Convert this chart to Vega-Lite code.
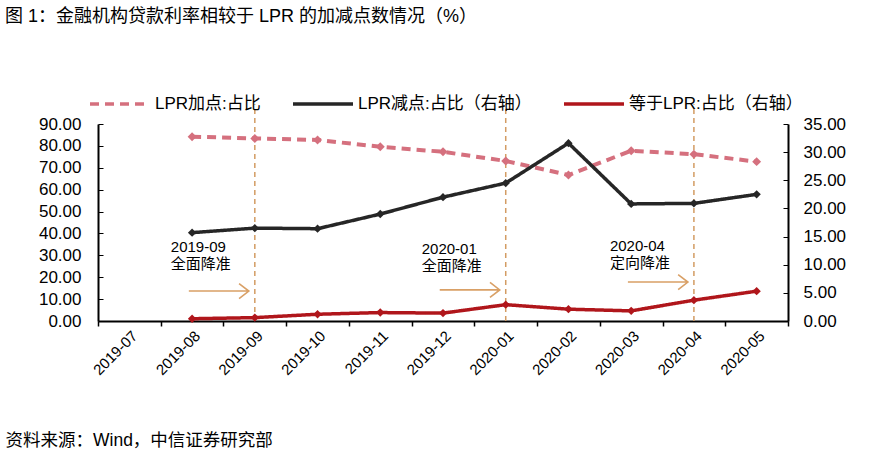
{
  "$schema": "https://vega.github.io/schema/vega-lite/v6.json",
  "width": 690,
  "height": 197,
  "autosize": {"type": "none"},
  "padding": {"left": 98, "top": 124, "right": 92, "bottom": 136},
  "background": "white",
  "title": {
    "text": "图 1：金融机构贷款利率相较于 LPR 的加减点数情况（%）",
    "anchor": "start",
    "frame": "group",
    "dx": -93,
    "dy": -36,
    "fontSize": 18,
    "fontWeight": "normal",
    "font": "Liberation Sans, Noto Sans CJK SC",
    "color": "#000000",
    "offset": 10
  },
  "config": {
    "font": "Liberation Sans, Noto Sans CJK SC",
    "view": {"stroke": null},
    "axis": {"labelOverlap": false, "labelColor": "#000000", "domainColor": "#000000", "tickColor": "#000000", "grid": false},
    "axisY": {"labelOverlap": false, "labelFontSize": 17, "labelFont": "Liberation Sans"},
    "legend": {
      "orient": "none",
      "legendX": -10,
      "legendY": -52,
      "direction": "horizontal",
      "symbolType": "stroke",
      "symbolSize": 3600,
      "symbolStrokeWidth": 3.5,
      "labelFontSize": 17,
      "labelLimit": 400,
      "labelColor": "#000000",
      "labelFont": "Liberation Sans, Noto Sans CJK SC",
      "columnPadding": 25,
      "labelOffset": 3,
      "title": null
    }
  },
  "datasets": {
    "plus": [
      {"month": "2019-08", "series": "LPR加点:占比", "value": 84.2},
      {"month": "2019-09", "series": "LPR加点:占比", "value": 83.4},
      {"month": "2019-10", "series": "LPR加点:占比", "value": 82.7},
      {"month": "2019-11", "series": "LPR加点:占比", "value": 79.6},
      {"month": "2019-12", "series": "LPR加点:占比", "value": 77.3},
      {"month": "2020-01", "series": "LPR加点:占比", "value": 73.1},
      {"month": "2020-02", "series": "LPR加点:占比", "value": 66.7},
      {"month": "2020-03", "series": "LPR加点:占比", "value": 77.8},
      {"month": "2020-04", "series": "LPR加点:占比", "value": 76.2},
      {"month": "2020-05", "series": "LPR加点:占比", "value": 72.8}
    ],
    "right": [
      {"month": "2019-08", "series": "LPR减点:占比（右轴）", "value": 15.7},
      {"month": "2019-09", "series": "LPR减点:占比（右轴）", "value": 16.5},
      {"month": "2019-10", "series": "LPR减点:占比（右轴）", "value": 16.4},
      {"month": "2019-11", "series": "LPR减点:占比（右轴）", "value": 19.0},
      {"month": "2019-12", "series": "LPR减点:占比（右轴）", "value": 22.0},
      {"month": "2020-01", "series": "LPR减点:占比（右轴）", "value": 24.5},
      {"month": "2020-02", "series": "LPR减点:占比（右轴）", "value": 31.6},
      {"month": "2020-03", "series": "LPR减点:占比（右轴）", "value": 20.8},
      {"month": "2020-04", "series": "LPR减点:占比（右轴）", "value": 20.9},
      {"month": "2020-05", "series": "LPR减点:占比（右轴）", "value": 22.5},
      {"month": "2019-08", "series": "等于LPR:占比（右轴）", "value": 0.4},
      {"month": "2019-09", "series": "等于LPR:占比（右轴）", "value": 0.6},
      {"month": "2019-10", "series": "等于LPR:占比（右轴）", "value": 1.2},
      {"month": "2019-11", "series": "等于LPR:占比（右轴）", "value": 1.5},
      {"month": "2019-12", "series": "等于LPR:占比（右轴）", "value": 1.4},
      {"month": "2020-01", "series": "等于LPR:占比（右轴）", "value": 2.9},
      {"month": "2020-02", "series": "等于LPR:占比（右轴）", "value": 2.1},
      {"month": "2020-03", "series": "等于LPR:占比（右轴）", "value": 1.8},
      {"month": "2020-04", "series": "等于LPR:占比（右轴）", "value": 3.7},
      {"month": "2020-05", "series": "等于LPR:占比（右轴）", "value": 5.3}
    ],
    "events": [
      {"month": "2019-09", "label": "2019-09\n全面降准", "labelY": 37.0, "arrowY": 13.7},
      {"month": "2020-01", "label": "2020-01\n全面降准", "labelY": 36.1, "arrowY": 14.2},
      {"month": "2020-04", "label": "2020-04\n定向降准", "labelY": 37.6, "arrowY": 17.8}
    ]
  },
  "encoding": {
    "x": {
      "field": "month",
      "type": "ordinal",
      "scale": {
        "type": "band",
        "paddingInner": 0,
        "paddingOuter": 0,
        "domain": ["2019-07", "2019-08", "2019-09", "2019-10", "2019-11", "2019-12", "2020-01", "2020-02", "2020-03", "2020-04", "2020-05"]
      },
      "axis": {
        "title": "资料来源：Wind，中信证券研究部",
        "titleAnchor": "start",
        "titleAlign": "left",
        "titleBaseline": "middle",
        "titleX": -93,
        "titleY": 119,
        "titleFontSize": 17.5,
        "titleFontWeight": "normal",
        "titleColor": "#000000",
        "labelAngle": -45,
        "labelFontSize": 15,
        "labelColor": "#000000",
        "labelOverlap": false,
        "tickBand": "extent",
        "domainColor": "#000000",
        "domainWidth": 2,
        "tickColor": "#000000",
        "tickWidth": 1.5,
        "tickSize": 5,
        "labelPadding": 2,
        "grid": false
      }
    }
  },
  "layer": [
    {
      "layer": [
        {
          "data": {"name": "plus"},
          "mark": {"type": "line", "strokeWidth": 4},
          "encoding": {
            "y": {
              "field": "value",
              "type": "quantitative",
              "scale": {"domain": [0, 90], "nice": false},
              "axis": {
                "title": null,
                "format": ".2f",
                "values": [0, 10, 20, 30, 40, 50, 60, 70, 80, 90],
                "tickCount": 20,
                "labelFontSize": 17,
                "labelFont": "Liberation Sans",
                "labelColor": "#000000",
                "labelOverlap": false,
                "domainColor": "#000000",
                "domainWidth": 2,
                "tickColor": "#000000",
                "tickSize": -5,
                "labelPadding": 22,
                "grid": false
              }
            },
            "color": {
              "field": "series",
              "type": "nominal",
              "scale": {
                "domain": ["LPR加点:占比", "LPR减点:占比（右轴）", "等于LPR:占比（右轴）"],
                "range": ["#D5707E", "#262626", "#B0161B"]
              }
            },
            "strokeDash": {
              "field": "series",
              "type": "nominal",
              "scale": {
                "domain": ["LPR加点:占比", "LPR减点:占比（右轴）", "等于LPR:占比（右轴）"],
                "range": [[9, 6], [1, 0], [1, 0]]
              }
            }
          }
        },
        {
          "data": {"name": "events"},
          "mark": {"type": "rule", "color": "#D39C63", "strokeDash": [5, 4], "strokeWidth": 1.5},
          "encoding": {
            "y": {"datum": 0, "type": "quantitative", "scale": {"domain": [0, 90], "nice": false}},
            "y2": {"datum": 99}
          }
        },
        {
          "data": {"name": "plus"},
          "mark": {"type": "point", "shape": "diamond", "filled": true, "size": 80, "color": "#D5707E", "opacity": 1},
          "encoding": {
            "y": {"field": "value", "type": "quantitative", "scale": {"domain": [0, 90], "nice": false}}
          }
        },
        {
          "data": {"name": "events"},
          "mark": {"type": "text", "align": "left", "baseline": "top", "dx": -84, "fontSize": 15, "lineHeight": 17, "lineBreak": "\n", "color": "#000000"},
          "encoding": {
            "y": {"field": "labelY", "type": "quantitative", "scale": {"domain": [0, 90], "nice": false}},
            "text": {"field": "label"}
          }
        },
        {
          "data": {"name": "events"},
          "mark": {"type": "point", "shape": "M-4.4,0L-0.4,0M-1.05,-0.5L-0.4,0L-1.05,0.5", "filled": false, "size": 900, "color": "#D9A066", "strokeWidth": 1.6, "opacity": 1},
          "encoding": {
            "y": {"field": "arrowY", "type": "quantitative", "scale": {"domain": [0, 90], "nice": false}}
          }
        }
      ]
    },
    {
      "data": {"name": "right"},
      "layer": [
        {
          "mark": {"type": "line", "strokeWidth": 3.5},
          "encoding": {
            "y": {
              "field": "value",
              "type": "quantitative",
              "scale": {"domain": [0, 35], "nice": false},
              "axis": {
                "orient": "right",
                "title": null,
                "format": ".2f",
                "values": [0, 5, 10, 15, 20, 25, 30, 35],
                "tickCount": 20,
                "labelFontSize": 17,
                "labelFont": "Liberation Sans",
                "labelColor": "#000000",
                "labelOverlap": false,
                "domainColor": "#000000",
                "domainWidth": 2,
                "tickColor": "#000000",
                "tickSize": -5,
                "labelPadding": 20,
                "grid": false
              }
            },
            "color": {"field": "series", "type": "nominal"},
            "strokeDash": {"field": "series", "type": "nominal"}
          }
        },
        {
          "transform": [{"filter": "datum.series === 'LPR减点:占比（右轴）'"}],
          "mark": {"type": "point", "shape": "diamond", "filled": true, "size": 70, "color": "#262626", "opacity": 1},
          "encoding": {"y": {"field": "value", "type": "quantitative", "scale": {"domain": [0, 35], "nice": false}}}
        },
        {
          "transform": [{"filter": "datum.series === '等于LPR:占比（右轴）'"}],
          "mark": {"type": "point", "shape": "diamond", "filled": true, "size": 70, "color": "#B0161B", "opacity": 1},
          "encoding": {"y": {"field": "value", "type": "quantitative", "scale": {"domain": [0, 35], "nice": false}}}
        }
      ]
    }
  ],
  "resolve": {"scale": {"y": "independent"}}
}
